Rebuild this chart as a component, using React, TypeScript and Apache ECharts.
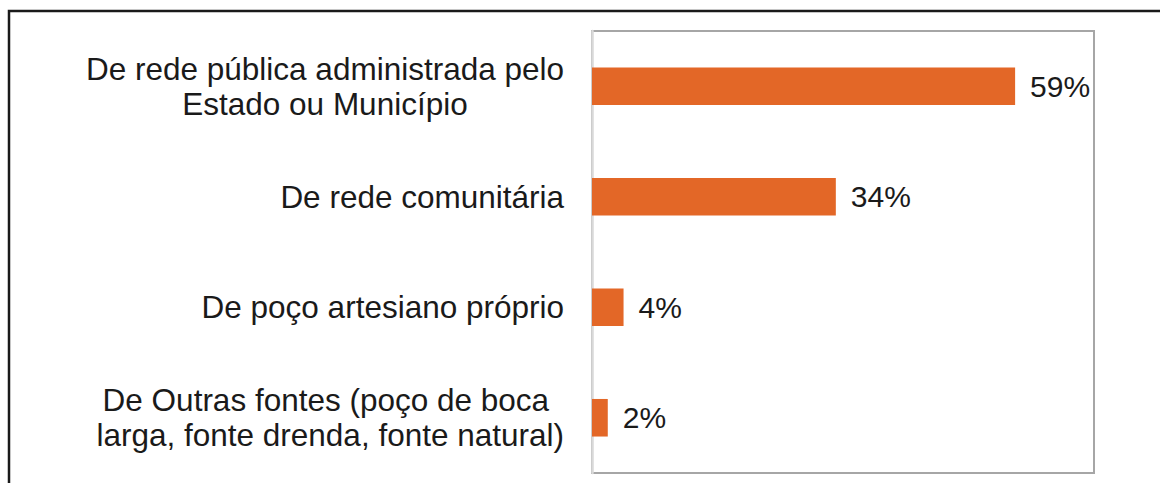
import React, { useEffect, useRef } from "react";
import * as echarts from "echarts";

const categories: string[][] = [
  ["De rede pública administrada pelo", "Estado ou Município"],
  ["De rede comunitária"],
  ["De poço artesiano próprio"],
  ["De Outras fontes (poço de boca ", "larga, fonte drenda, fonte natural)"],
];
const values: number[] = [59, 34, 4.4, 2.2];
const xMin = 0;
const xMax = 70;

const FONT = '"Liberation Sans", Arial, sans-serif';
const TEXT = "#1a1a1a";
const BAR = "#E36727";

export default function App() {
  const ref = useRef<HTMLDivElement>(null);
  useEffect(() => {
    document.body.style.margin = "0";
    if (!ref.current) return;
    const chart = echarts.init(ref.current, undefined, { renderer: "svg" });
    const labels = categories.map((c) => c.join("\n"));
    chart.setOption({
      animation: false,
      backgroundColor: "#ffffff",
      textStyle: { fontFamily: FONT },
      graphic: [
        {
          type: "rect",
          shape: { x: 9, y: 11, width: 1300, height: 700 },
          style: { fill: "none", stroke: "#1a1a1a", lineWidth: 2.5 },
          silent: true,
          z: 100,
        },
      ],
      grid: {
        left: 592,
        top: 31,
        right: 66,
        bottom: 10,
        show: true,
        borderColor: "#a6a6a6",
        borderWidth: 2,
        backgroundColor: "transparent",
        containLabel: false,
      },
      xAxis: {
        type: "value",
        min: xMin,
        max: xMax,
        show: false,
        splitLine: { show: false },
      },
      yAxis: {
        type: "category",
        inverse: true,
        data: labels,
        axisLine: { show: true, lineStyle: { color: "#d9d9d9", width: 2.5 } },
        axisTick: { show: false },
        axisLabel: {
          margin: 28,
          align: "right",
          formatter: (v: string) =>
            v
              .split("\n")
              .map((l) => "{c|" + l + "}")
              .join("\n"),
          rich: {
            c: {
              align: "center",
              fontSize: 31.5,
              lineHeight: 35,
              color: TEXT,
              fontFamily: FONT,
            },
          },
        },
      },
      series: [
        {
          type: "bar",
          data: values,
          barWidth: "34%",
          itemStyle: { color: BAR },
          label: {
            show: true,
            position: "right",
            distance: 15,
            fontSize: 30,
            color: TEXT,
            fontFamily: FONT,
            formatter: (p: any) => Math.round(p.value) + "%",
          },
        },
      ],
    });
    return () => chart.dispose();
  }, []);
  return <div ref={ref} style={{ width: 1160, height: 483 }} />;
}
